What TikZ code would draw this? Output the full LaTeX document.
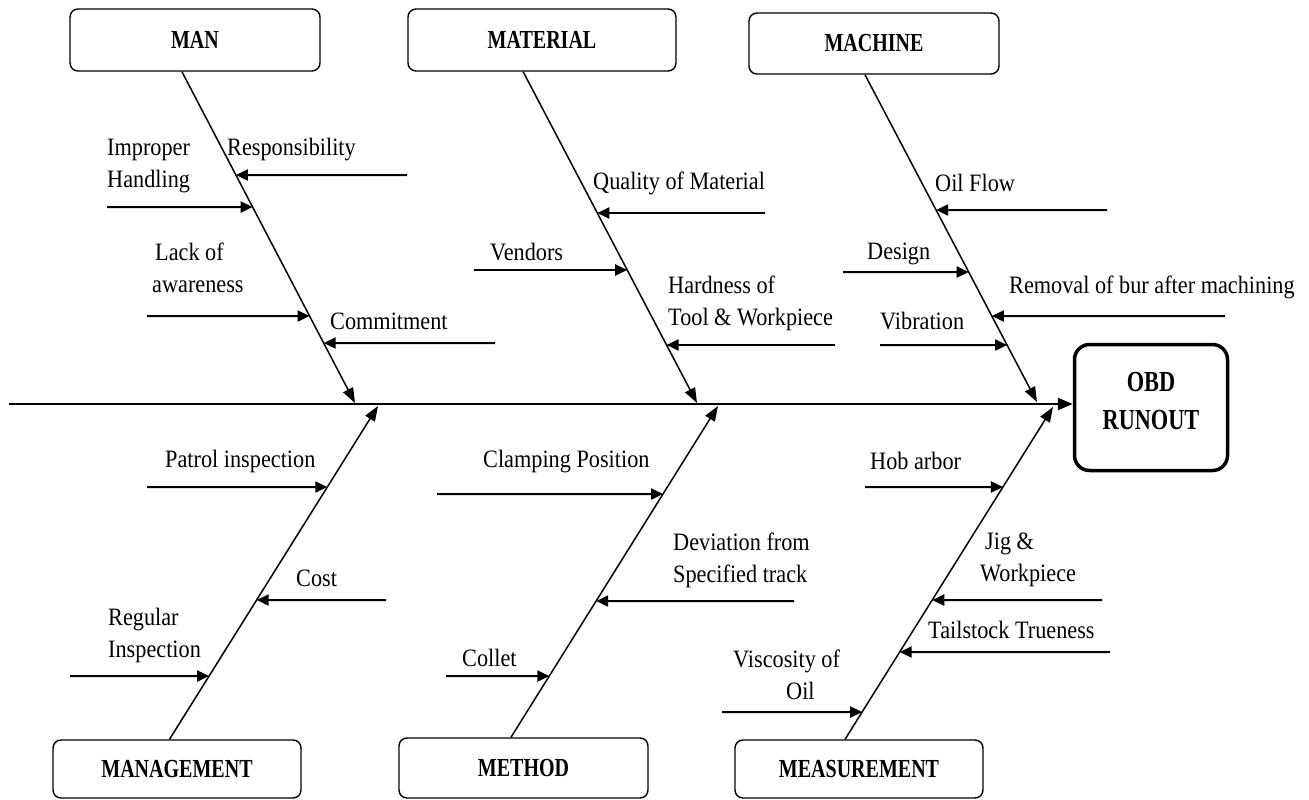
\documentclass[tikz,border=0pt]{standalone}
\usepackage{fontspec}
\setmainfont{Liberation Serif}[FakeStretch=0.89,BoldFeatures={FakeStretch=0.77}]
\usetikzlibrary{arrows.meta,calc}
\newcommand\bonept[4]{\coordinate (#4) at (intersection cs:first line={(#1)--(#2)},second line={(#3)--($(#3)+(-10,0)$)});}
\begin{document}
\begin{tikzpicture}[x=1pt,y=-1pt,
  cat/.style={draw,line width=1.4pt,rounded corners=8pt,inner sep=0pt,
    font=\fontsize{26}{30}\selectfont\bfseries},
  effect/.style={draw,line width=3.5pt,rounded corners=15pt,inner sep=0pt,
    minimum width=153pt,minimum height=126pt},
  effecttxt/.style={inner sep=0pt,align=center,font=\fontsize{29}{38}\selectfont\bfseries},
  lbl/.style={inner sep=0pt,align=left,anchor=west,font=\fontsize{25}{32}\selectfont},
  bone/.style={line width=1.5pt,-{Triangle[length=15pt,width=11pt]}},
  sub/.style={line width=2pt,-{Triangle[length=12pt,width=11pt]}},
  spine/.style={line width=2.5pt,-{Triangle[length=15pt,width=12pt]}}]
\useasboundingbox (0,0) rectangle (1309,800);
% category boxes
\node[cat,minimum width=250pt,minimum height=62pt] (man) at (195,40) {MAN};
\node[cat,minimum width=268pt,minimum height=62pt] (mat) at (542,40) {MATERIAL};
\node[cat,minimum width=250pt,minimum height=61pt] (mac) at (874,43.5) {MACHINE};
\node[cat,minimum width=248pt,minimum height=58pt] (mgt) at (177,769) {MANAGEMENT};
\node[cat,minimum width=249pt,minimum height=60pt] (met) at (523.5,768) {METHOD};
\node[cat,minimum width=248pt,minimum height=58pt] (mea) at (859,769) {MEASUREMENT};
\node[effect] (obd) at (1151,407.5) {};
\node[effecttxt] (obdt) at (1151,401) {OBD\\RUNOUT};
% spine
\coordinate (spL) at (9,404);
\draw[spine] (spL) -- (obd.west |- spL);
% bones
\coordinate (manT) at ($(man.south west)!0.448!(man.south east)$);
\coordinate (matT) at ($(mat.south west)!0.43!(mat.south east)$);
\coordinate (macT) at ($(mac.south west)!0.464!(mac.south east)$);
\coordinate (mgtB) at ($(mgt.north west)!0.47!(mgt.north east)$);
\coordinate (metB) at ($(met.north west)!0.45!(met.north east)$);
\coordinate (meaB) at ($(mea.north west)!0.444!(mea.north east)$);
\coordinate (manH) at (355,403);
\coordinate (matH) at (697,403);
\coordinate (macH) at (1037,402);
\coordinate (mgtH) at (378,406);
\coordinate (metH) at (718,406);
\coordinate (meaH) at (1053,407);
\draw[bone] (manT) -- (manH);
\draw[bone] (matT) -- (matH);
\draw[bone] (macT) -- (macH);
\draw[bone] (mgtB) -- (mgtH);
\draw[bone] (metB) -- (metH);
\draw[bone] (meaB) -- (meaH);
% causes: start points
\coordinate (s1) at (407,175);  \bonept{manT}{manH}{s1}{e1}
\coordinate (s2) at (107,207);  \bonept{manT}{manH}{s2}{e2}
\coordinate (s3) at (147,316);  \bonept{manT}{manH}{s3}{e3}
\coordinate (s4) at (495,343);  \bonept{manT}{manH}{s4}{e4}
\coordinate (s5) at (765,213);  \bonept{matT}{matH}{s5}{e5}
\coordinate (s6) at (474,270);  \bonept{matT}{matH}{s6}{e6}
\coordinate (s7) at (835,345);  \bonept{matT}{matH}{s7}{e7}
\coordinate (s8) at (1107,210); \bonept{macT}{macH}{s8}{e8}
\coordinate (s9) at (843,272);  \bonept{macT}{macH}{s9}{e9}
\coordinate (s10) at (1225,316); \bonept{macT}{macH}{s10}{e10}
\coordinate (s11) at (880,345); \bonept{macT}{macH}{s11}{e11}
\coordinate (s12) at (147,487); \bonept{mgtB}{mgtH}{s12}{e12}
\coordinate (s13) at (386,600); \bonept{mgtB}{mgtH}{s13}{e13}
\coordinate (s14) at (70,676);  \bonept{mgtB}{mgtH}{s14}{e14}
\coordinate (s15) at (437,494); \bonept{metB}{metH}{s15}{e15}
\coordinate (s16) at (794,601); \bonept{metB}{metH}{s16}{e16}
\coordinate (s17) at (446,676); \bonept{metB}{metH}{s17}{e17}
\coordinate (s18) at (865,487); \bonept{meaB}{meaH}{s18}{e18}
\coordinate (s19) at (1102,600); \bonept{meaB}{meaH}{s19}{e19}
\coordinate (s20) at (1110,652); \bonept{meaB}{meaH}{s20}{e20}
\coordinate (s21) at (722,712); \bonept{meaB}{meaH}{s21}{e21}
\foreach \i in {1,...,21} {\draw[sub] (s\i) -- (e\i);}
% labels
\node[lbl] (l1) at (227,150) {Responsibility};
\node[lbl] (l2) at (107,166) {Improper\\Handling};
\node[lbl] (l3) at (152,268) {\hspace*{3pt}Lack of\\awareness};
\node[lbl] (l4) at (330,321) {Commitment};
\node[lbl] (l5) at (593,183) {Quality of Material};
\node[lbl] (l6) at (490,252) {Vendors};
\node[lbl] (l7) at (668,303) {Hardness of\\Tool \& Workpiece};
\node[lbl] (l8) at (935,183) {Oil Flow};
\node[lbl] (l9) at (867,254) {Design};
\node[lbl] (l10) at (1009,287) {Removal of bur after machining};
\node[lbl] (l11) at (880,321) {Vibration};
\node[lbl] (l12) at (165,461) {Patrol inspection};
\node[lbl] (l13) at (296,578) {Cost};
\node[lbl] (l14) at (108,635) {Regular\\Inspection};
\node[lbl] (l15) at (483,462) {Clamping Position};
\node[lbl] (l16) at (673,560) {Deviation from\\Specified track};
\node[lbl] (l17) at (462,658) {Collet};
\node[lbl] (l18) at (870,461) {Hob arbor};
\node[lbl] (l19) at (980,560) {\hspace*{5pt}Jig \&\\Workpiece};
\node[lbl] (l20) at (928,630) {Tailstock Trueness};
\node[lbl] (l21) at (733,675) {Viscosity of\\\hspace*{53pt}Oil};
\end{tikzpicture}
\end{document}
